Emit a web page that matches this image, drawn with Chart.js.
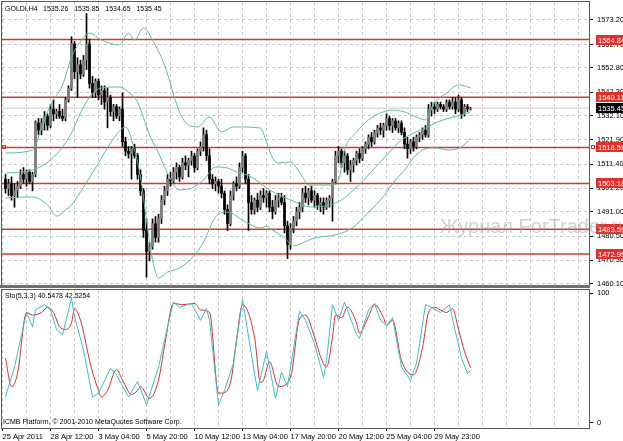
<!DOCTYPE html>
<html>
<head>
<meta charset="utf-8">
<script src="https://cdn.jsdelivr.net/npm/chart.js@4/dist/chart.umd.min.js"></script>
<style>
    html, body { margin: 0; padding: 0; background: #fff; overflow: hidden; }
    #wrap { position: relative; width: 623px; height: 441px; background: #fff; }
    #main { position: absolute; left: 0; top: 0; width: 623px; height: 289px; }
    #sto { position: absolute; left: 0; top: 289px; width: 623px; height: 152px; }
</style>
</head>
<body>
<div id="wrap">
    <canvas id="main" width="623" height="289"></canvas>
    <canvas id="sto" width="623" height="152"></canvas>
</div>
<script>
/* ============================================================
   GOLD H4 — candles, Bollinger bands, levels and Stochastic
   ============================================================ */

// ------------------------------------------------------------------
// Candles (bar index 0..155)
// ------------------------------------------------------------------
var opens = [1505,1501,1503,1498,1500,1502,1507,1505,1508,1504,
    1507,1529,1526,1529,1532,1528,1535,1533,1534,1532,
    1531,1539,1544,1563,1551,1554,1550,1556,1563,1546,
    1542,1547,1541,1543,1538,1540,1534,1536,1532,1535,
    1521,1517,1516,1518,1515,1507,1500,1483,1474,1476,
    1486,1480,1488,1496,1500,1505,1504,1508,1510,1506,
    1512,1511,1513,1515,1510,1517,1519,1524,1515,1505,
    1503,1504,1502,1499,1492,1486,1498,1503,1502,1510,
    1515,1505,1495,1492,1496,1493,1498,1497,1499,1493,
    1491,1496,1497,1495,1485,1477,1484,1487,1491,1493,
    1499,1497,1500,1496,1498,1494,1495,1493,1496,1497,
    1504,1515,1517,1512,1515,1509,1511,1513,1516,1514,
    1518,1520,1523,1521,1525,1527,1526,1528,1531,1528,
    1530,1527,1529,1525,1520,1518,1521,1519,1523,1524,
    1526,1524,1535,1536,1535,1537,1536,1535,1538,1536,
    1538,1535,1539,1533,1536,1535.26];
var highs = [1507,1505,1506,1503,1504,1509,1510,1509,1509,1508,
    1530,1531,1531,1534,1533,1537,1539,1535,1537,1535,
    1540,1545,1566,1564,1557,1556,1558,1576,1565,1549,
    1548,1548,1545,1545,1544,1541,1537,1537,1536,1542,
    1523,1519,1519,1520,1516,1509,1501,1488,1478,1488,
    1489,1490,1498,1502,1507,1508,1510,1512,1511,1514,
    1515,1514,1517,1516,1518,1521,1527,1526,1518,1507,
    1506,1505,1505,1500,1494,1500,1504,1506,1512,1517,
    1516,1507,1498,1497,1499,1500,1501,1500,1500,1496,
    1498,1499,1499,1498,1487,1486,1489,1493,1495,1501,
    1502,1501,1502,1500,1499,1497,1497,1497,1498,1505,
    1517,1519,1518,1517,1516,1513,1514,1517,1518,1519,
    1521,1524,1525,1526,1528,1529,1529,1533,1532,1531,
    1531,1530,1530,1527,1523,1522,1523,1524,1525,1527,
    1528,1537,1538,1538,1538,1538,1537,1539,1539,1540,
    1540,1541,1540,1537,1537,1535.85];
var lows = [1499,1498,1496,1493,1497,1501,1503,1502,1503,1500,
    1506,1524,1524,1526,1526,1527,1530,1531,1531,1530,
    1530,1538,1543,1548,1540,1548,1549,1552,1544,1540,
    1540,1539,1537,1535,1527,1532,1530,1531,1530,1519,
    1515,1514,1505,1514,1505,1498,1480,1463,1470,1475,
    1478,1478,1486,1494,1498,1502,1503,1505,1504,1505,
    1509,1506,1511,1508,1509,1515,1517,1513,1503,1501,
    1500,1499,1497,1490,1483,1485,1496,1500,1501,1508,
    1503,1483,1490,1490,1491,1492,1495,1493,1491,1488,
    1490,1493,1494,1482,1471,1475,1482,1485,1488,1491,
    1495,1494,1495,1493,1492,1491,1490,1492,1493,1487,
    1503,1512,1510,1508,1507,1504,1508,1511,1512,1513,
    1516,1518,1519,1520,1523,1524,1523,1526,1526,1525,
    1526,1525,1524,1518,1514,1516,1517,1518,1521,1522,
    1523,1523,1532,1533,1534,1535,1534,1534,1535,1535,
    1533,1534,1531,1532,1534,1534.65];
var closes = [1501,1503,1498,1500,1502,1507,1505,1508,1504,1507,
    1529,1526,1529,1532,1528,1535,1533,1534,1532,1531,
    1539,1544,1563,1551,1554,1550,1556,1563,1546,1542,
    1547,1541,1543,1538,1540,1534,1536,1532,1535,1521,
    1517,1516,1518,1515,1507,1500,1483,1474,1476,1486,
    1480,1488,1496,1500,1505,1504,1508,1510,1506,1512,
    1511,1513,1515,1510,1517,1519,1524,1515,1505,1503,
    1504,1502,1499,1492,1486,1498,1503,1502,1510,1515,
    1505,1495,1492,1496,1493,1498,1497,1499,1493,1491,
    1496,1497,1495,1485,1477,1484,1487,1491,1493,1499,
    1497,1500,1496,1498,1494,1495,1493,1496,1497,1504,
    1515,1517,1512,1515,1509,1511,1513,1516,1514,1518,
    1520,1523,1521,1525,1527,1526,1528,1531,1528,1530,
    1527,1529,1525,1520,1518,1521,1519,1523,1524,1526,
    1524,1535,1536,1535,1537,1536,1535,1538,1536,1538,
    1535,1539,1533,1536,1535.26,1535.45];

// ------------------------------------------------------------------
// Bollinger bands (bar index / price)
// ------------------------------------------------------------------
var bbUpperBars = [0,9,12,15,19,22,25,28,32,38,41,43,46,49,53,58,61,64,68,72,
    76,85,87,89,91,95,99,101,108,111,113,117,121,125,129,133,137,140,143,147,151,155];
var bbUpper = [1516.2,1517.5,1526.9,1536.8,1545.3,1557.3,1563.8,1567.6,1564.6,1562.5,
    1567.6,1564.6,1569.8,1564.6,1553.9,1533.8,1528.2,1527.4,1531.6,1525.2,
    1527.4,1526.9,1520.9,1514.1,1511.9,1512.4,1505.9,1502.5,1502.5,1504.6,
    1517.5,1525.2,1530.4,1533.4,1534.6,1533.8,1531.6,1530.4,1537.6,1541.9,1545.4,1544.1];
var bbMidBars = [0,9,15,19,22,25,28,32,38,41,44,48,51,54,58,62,66,70,74,77,
    82,88,95,102,108,112,116,120,124,128,132,136,140,144,148,152,155];
var bbMid = [1507.6,1508.9,1513.2,1518.8,1524.8,1533.4,1540.2,1544.1,1544.5,1542.3,
    1538.1,1523.9,1516.2,1507.6,1500.4,1501.2,1504.6,1510.2,1509.8,1508.1,
    1505.9,1500.4,1496.1,1493.1,1493.9,1496.1,1500.4,1505.5,1511.1,1516.6,
    1521.8,1524.8,1526.9,1529.5,1531.2,1532.5,1533.8];
var bbLowerBars = [0,9,14,17,20,22,26,31,35,38,40,43,45,47,49,51,54,58,63,66,
    70,74,80,85,87,89,93,96,99,103,108,112,116,120,125,130,133,136,139,143,148,152,155];
var bbLower = [1497.0,1497.4,1493.9,1489.2,1491.8,1493.9,1501.6,1511.9,1520.5,1525.6,
    1527.4,1517.5,1505.9,1487.5,1470.4,1462.7,1465.2,1466.9,1472.5,1478.1,
    1488.8,1490.9,1486.6,1484.1,1484.9,1483.2,1479.8,1476.4,1477.7,1479.8,
    1480.7,1481.9,1484.5,1489.6,1496.1,1504.6,1508.9,1514.1,1517.5,1518.4,1517.5,1518.8,1522.6];

// ------------------------------------------------------------------
// Stochastic (5,3,3): %K main and %D signal
// ------------------------------------------------------------------
var kBars = [0,3,7,9,10,13,15,17,19,22,23,26,29,31,35,37,41,44,47,51,
    54,56,58,62,65,67,68,71,73,76,79,83,84,87,90,92,94,98,100,103,
    106,107,109,111,113,117,118,121,123,125,127,129,132,135,137,140,142,145,148,150,152,154,155];
var kValues = [20,43,85,74,87,91,87,72,68,96,82,56,20,23,42,37,20,32,14,43,
    74,93,89,92,79,88,79,14,25,46,95,38,25,55,19,39,28,86,79,61,
    35,48,91,79,93,68,65,87,92,79,75,81,43,33,46,91,89,85,91,70,50,38,40.5];
var dBars = [0,2,4,7,9,12,14,16,18,20,22,23,25,27,28,31,32,34,37,39,
    42,44,45,48,51,53,56,59,63,65,68,71,72,75,77,79,83,85,86,88,
    91,95,98,100,103,105,107,109,110,112,114,117,118,121,123,126,127,129,132,136,
    139,141,143,145,147,149,151,153,155];
var dValues = [50,28,38,85,83,85,89,85,74,72,77,88,79,59,48,25,20,25,41,33,
    22,25,28,19,33,59,92,91,92,87,85,23,23,31,64,91,66,31,33,47,
    28,35,80,83,66,51,43,66,83,81,89,77,69,82,91,81,75,79,48,37,
    58,85,89,87,85,88,72,55,42.5];

// ------------------------------------------------------------------
// Levels, axis ticks and date labels
// ------------------------------------------------------------------
var levels = [1564.84, 1540.11, 1518.59, 1503.18, 1483.59, 1472.99];
var lastPrice = 1535.45;
var priceTicks = [1573.20, 1562.70, 1552.80, 1542.30, 1532.10, 1521.90, 1511.40, 1501.20, 1491.00, 1480.50, 1470.30, 1460.10];
var stoTicks = [0, 100];
var gridBars = [-1,7,15,23,31,39,47,55,63,71,79,87,95,103,111,119,127,135,143,151,159,167,175,183,191];
var dateBars = [-1, 15, 31, 47, 63, 79, 95, 111, 127, 143];
var dateLabels = ['25 Apr 2011', '28 Apr 12:00', '3 May 04:00', '5 May 20:00', '10 May 12:00',
    '13 May 04:00', '17 May 20:00', '20 May 12:00', '25 May 04:00', '29 May 23:00'];

// ------------------------------------------------------------------
// Styling
// ------------------------------------------------------------------
var FONT = '"Liberation Sans", Arial, sans-serif';
var X_MIN = -1 - 1 / 6;
var X_MAX = X_MIN + 587 / 3;
var GRID = '#c6c6c6';
var BAND = '#5fbf98';
var LEVEL = '#cc3a3a';

Chart.defaults.font.family = FONT;
Chart.defaults.font.size = 7.5;
Chart.defaults.color = '#000';

function pts(bars, vals) {
    return bars.map(function (b, k) { return { x: b, y: vals[k] }; });
}

function noPad(s) {
    s.paddingTop = 0; s.paddingBottom = 0; s.paddingLeft = 0; s.paddingRight = 0;
}

function gridTicks(s) {
    s.ticks = gridBars.map(function (v) { return { value: v }; });
}

function levelSet(price, color, width) {
    return {
        type: 'line', order: 5,
        data: [{ x: X_MIN, y: price }, { x: X_MAX, y: price }],
        borderColor: color, borderWidth: width, pointRadius: 0
    };
}

function bandSet(bars, vals) {
    return {
        type: 'line', order: 0,
        data: pts(bars, vals),
        borderColor: BAND, borderWidth: 1, pointRadius: 0,
        cubicInterpolationMode: 'monotone'
    };
}

// ------------------------------------------------------------------
// Main price pane
// ------------------------------------------------------------------
var wickData = highs.map(function (h, i) { return { x: i, y: [lows[i], h] }; });
var bodyData = opens.map(function (o, i) { return { x: i, y: [o, closes[i]] }; });
var bodyColors = opens.map(function (o, i) { return closes[i] >= o ? '#7c7c7c' : '#000'; });

var priceOverlay = {
    id: 'priceOverlay',
    afterDraw: function (chart) {
        var ctx = chart.ctx, a = chart.chartArea, y = chart.scales.y;
        ctx.save();
        ctx.strokeStyle = '#5a5a5a';
        ctx.lineWidth = 1;
        ctx.strokeRect(a.left - 0.5, a.top - 0.5, a.right - a.left + 1, a.bottom - a.top + 1);
        ctx.fillStyle = '#707070';
        ctx.fillRect(0, a.bottom, a.right + 1, 3);

        // marker squares on the selected level
        var ys = Math.round(y.getPixelForValue(levels[2]));
        ctx.strokeStyle = '#d03030';
        ctx.strokeRect(a.left + 0.5, ys - 1.5, 3, 3);
        ctx.strokeRect(a.right + 2.5, ys - 1.5, 3, 3);

        // price tags on the scale
        ctx.font = '7.5px ' + FONT;
        ctx.textBaseline = 'middle';
        levels.forEach(function (lv) {
            var py = Math.round(y.getPixelForValue(lv));
            ctx.fillStyle = '#e0302c';
            ctx.fillRect(596, py - 5, 27, 10);
            ctx.fillStyle = '#fff';
            ctx.fillText(lv.toFixed(2), 598, py + 0.5);
        });
        var lp = Math.round(y.getPixelForValue(lastPrice));
        ctx.fillStyle = '#000';
        ctx.fillRect(596, lp - 5, 27, 10);
        ctx.fillStyle = '#fff';
        ctx.fillText(lastPrice.toFixed(2), 598, lp + 0.5);

        // watermark
        ctx.font = '20px ' + FONT;
        ctx.fillStyle = 'rgba(150,150,150,0.45)';
        ctx.textBaseline = 'alphabetic';
        ctx.fillText('Журнал ForTrader.ru', 440, 233);

        // symbol caption
        ctx.fillStyle = '#000';
        ctx.font = '7px ' + FONT;
        ctx.textBaseline = 'middle';
        ctx.fillText('GOLDI,H4', 5, 9);
        ctx.fillText('1535.26   1535.85   1534.65   1535.45', 43, 9);
        ctx.restore();
    }
};

var mainDatasets = [
    { type: 'bar', order: 3, data: wickData, backgroundColor: '#000', barThickness: 1, grouped: false },
    { type: 'bar', order: 2, data: bodyData, backgroundColor: bodyColors, barThickness: 2, grouped: false },
    bandSet(bbUpperBars, bbUpper),
    bandSet(bbMidBars, bbMid),
    bandSet(bbLowerBars, bbLower),
    levelSet(lastPrice, '#c8c8c8', 1)
].concat(levels.map(function (lv) { return levelSet(lv, LEVEL, 1.5); }));

new Chart(document.getElementById('main'), {
    data: { datasets: mainDatasets },
    options: {
        responsive: false,
        animation: false,
        events: [],
        layout: { padding: { top: 2, left: 2, right: 0, bottom: 4 } },
        plugins: { legend: { display: false }, tooltip: { enabled: false } },
        scales: {
            x: {
                type: 'linear', min: X_MIN, max: X_MAX, offset: false,
                afterBuildTicks: gridTicks,
                afterFit: function (s) { s.height = 0; noPad(s); },
                ticks: { display: false },
                grid: { color: GRID, drawTicks: false, offset: false },
                border: { display: false, dash: [3, 3] }
            },
            y: {
                position: 'right', min: 1459.66, max: 1580.91,
                afterBuildTicks: function (s) { s.ticks = priceTicks.map(function (v) { return { value: v }; }); },
                afterFit: function (s) { s.width = 34; noPad(s); },
                ticks: { padding: 4, color: '#000', callback: function (v) { return v.toFixed(2); } },
                grid: { color: GRID, tickLength: 4, tickColor: '#000', tickBorderDash: [] },
                border: { display: false, dash: [3, 3] }
            }
        }
    },
    plugins: [priceOverlay]
});

// ------------------------------------------------------------------
// Stochastic pane
// ------------------------------------------------------------------
var stoOverlay = {
    id: 'stoOverlay',
    afterDraw: function (chart) {
        var ctx = chart.ctx, a = chart.chartArea;
        ctx.save();
        ctx.strokeStyle = '#5a5a5a';
        ctx.lineWidth = 1;
        ctx.strokeRect(a.left - 0.5, a.top - 0.5, a.right - a.left + 1, a.bottom - a.top + 1);
        ctx.fillStyle = '#000';
        ctx.font = '7px ' + FONT;
        ctx.textBaseline = 'middle';
        ctx.fillText('Sto(5,3,3) 40.5478 42.5254', 5, 7);
        ctx.fillText('ICMB Platform, \u00a9 2001-2010 MetaQuotes Software Corp.', 3, 133);
        ctx.restore();
    }
};

new Chart(document.getElementById('sto'), {
    type: 'line',
    data: {
        datasets: [
            { data: pts(kBars, kValues), borderColor: '#3cbfc6', borderWidth: 1, pointRadius: 0, tension: 0 },
            { data: pts(dBars, dValues), borderColor: '#dd2e2e', borderWidth: 1, pointRadius: 0, cubicInterpolationMode: 'monotone' }
        ]
    },
    options: {
        responsive: false,
        animation: false,
        events: [],
        layout: { padding: { top: 1, left: 2, right: 0, bottom: 0 } },
        plugins: { legend: { display: false }, tooltip: { enabled: false } },
        scales: {
            x: {
                type: 'linear', min: X_MIN, max: X_MAX, offset: false,
                afterBuildTicks: gridTicks,
                afterFit: function (s) { s.height = 13; noPad(s); },
                ticks: {
                    autoSkip: false, maxRotation: 0, align: 'start', padding: 1, color: '#000',
                    callback: function (v) {
                        var k = dateBars.indexOf(v);
                        return k >= 0 ? dateLabels[k] : '';
                    }
                },
                grid: {
                    color: GRID, tickLength: 3, tickBorderDash: [], offset: false,
                    tickColor: function (c) { return c.tick && dateBars.indexOf(c.tick.value) >= 0 ? '#000' : 'rgba(0,0,0,0)'; }
                },
                border: { display: false, dash: [3, 3] }
            },
            y: {
                position: 'right', min: -3.85, max: 102.31,
                afterBuildTicks: function (s) { s.ticks = stoTicks.map(function (v) { return { value: v }; }); },
                afterFit: function (s) { s.width = 34; noPad(s); },
                ticks: { padding: 4, color: '#000' },
                grid: { drawOnChartArea: false, tickLength: 4, tickColor: '#000' },
                border: { display: false }
            }
        }
    },
    plugins: [stoOverlay]
});
</script>
</body>
</html>
